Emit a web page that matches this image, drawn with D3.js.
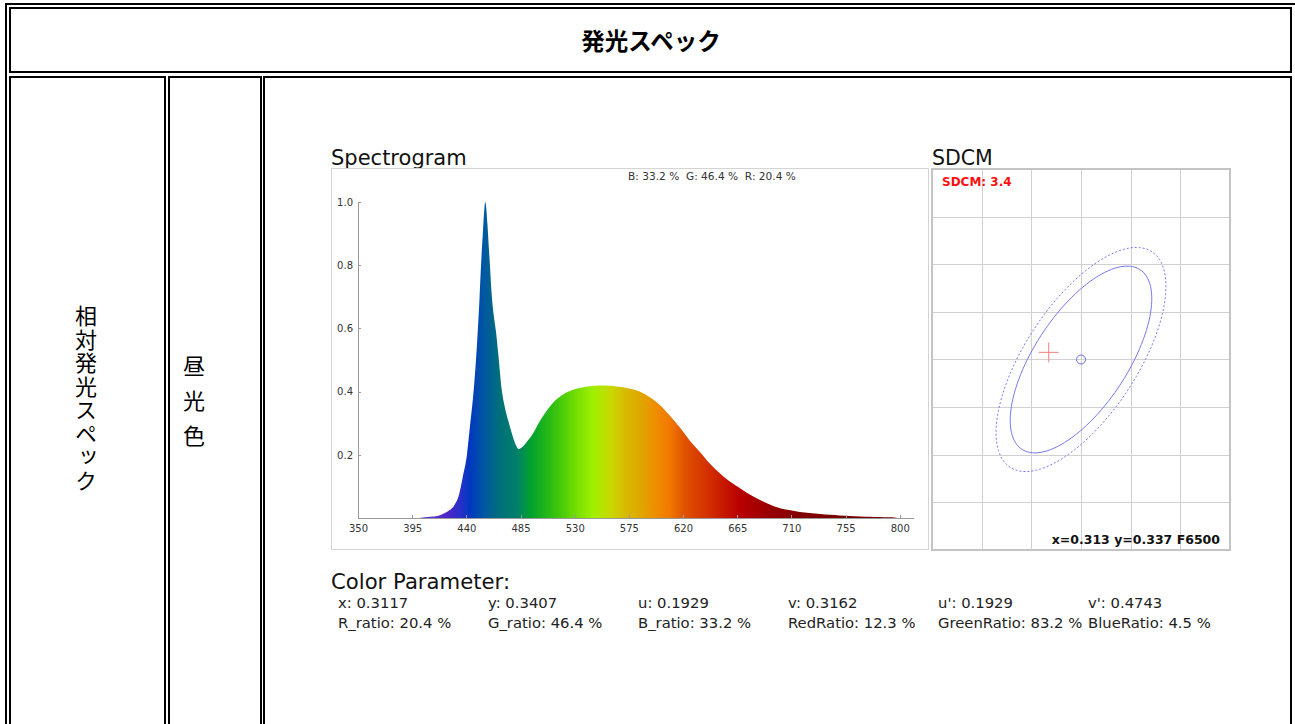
<!DOCTYPE html>
<meta charset="utf-8">
<style>
    body { margin: 0; background: #fff; }
    svg { display: block; }
    .axis path, .axis line { stroke: #999; shape-rendering: crispEdges; }
    .axis text { fill: #333; font: 10px "DejaVu Sans", sans-serif; }
    .param { font: 14.8px "DejaVu Sans", sans-serif; fill: #222; }
</style>
<svg width="1295" height="724"></svg>
<script src="https://cdnjs.cloudflare.com/ajax/libs/d3/7.8.5/d3.min.js"></script>
<script>
// spectrum (nm, relative intensity)
const wavelengths = [380, 400, 405, 410, 416, 420, 425, 430, 434, 437, 440.5, 443, 446, 448, 449.6, 451, 452.2, 453.7, 455, 455.6, 456.3, 457.5, 458.6, 459.6, 461, 462.8, 464.6, 466.5, 469.6, 472, 475, 478, 481, 483.5, 486, 490, 495, 500, 505, 512, 520, 528, 536, 545, 555, 565, 575, 584, 592, 600, 608, 617, 625, 634, 642, 650, 658, 667, 675, 684, 692, 700, 708, 717, 725, 734, 742, 750, 758, 767, 775, 783, 790, 797, 800];
const intensity   = [0, 0, 0.002, 0.004, 0.006, 0.012, 0.022, 0.04, 0.075, 0.13, 0.2, 0.29, 0.4, 0.5, 0.6, 0.7, 0.8, 0.9, 0.98, 1.0, 0.99, 0.93, 0.86, 0.8, 0.71, 0.64, 0.59, 0.52, 0.4, 0.35, 0.305, 0.265, 0.232, 0.218, 0.223, 0.24, 0.265, 0.3, 0.33, 0.365, 0.39, 0.405, 0.413, 0.418, 0.419, 0.416, 0.41, 0.4, 0.383, 0.36, 0.328, 0.288, 0.248, 0.209, 0.173, 0.143, 0.118, 0.095, 0.075, 0.057, 0.043, 0.032, 0.025, 0.019, 0.016, 0.013, 0.01, 0.008, 0.006, 0.005, 0.004, 0.003, 0.002, 0.001, 0];

const xTicks = [350, 395, 440, 485, 530, 575, 620, 665, 710, 755, 800];
const yTicks = [0.2, 0.4, 0.6, 0.8, 1.0];

// colour of the fill along the wavelength axis
const colorStopNm  = [400, 425, 435, 443, 455, 468, 482, 493, 512, 530, 545, 560, 573, 584, 600, 609, 622, 645, 667, 692, 717, 800];
const colorStopHex = ["#6a3ad0", "#4a28c8", "#2830c8", "#0038c0", "#0058a0", "#00707a", "#00806a", "#00a030", "#30c010", "#70dc00", "#a0f000", "#c8d800", "#d8b800", "#e0a800", "#f08800", "#f07800", "#e05000", "#d02800", "#b80000", "#980000", "#800000", "#700000"];

const rgbShare = ["B: 33.2 %", "G: 46.4 %", "R: 20.4 %"];

// SDCM
const targetXY = [0.313, 0.337];
const measuredXY = [0.3117, 0.3373];
const sdcmValue = 3.4;
const targetName = "F6500";
const ellipseA = 0.00223, ellipseB = 0.00095, ellipseTheta = 58.23;
const ellipseSteps = [2, 2.4];

// colour parameters
const paramNames1 = ["x", "y", "u", "v", "u'", "v'"];
const paramValues1 = ["0.3117", "0.3407", "0.1929", "0.3162", "0.1929", "0.4743"];
const paramNames2 = ["R_ratio", "G_ratio", "B_ratio", "RedRatio", "GreenRatio", "BlueRatio"];
const paramValues2 = ["20.4 %", "46.4 %", "33.2 %", "12.3 %", "83.2 %", "4.5 %"];

const svg = d3.select("svg");

// ---- table frame ----
const frame = svg.append("g").attr("fill", "none").attr("stroke", "#000").attr("stroke-width", 2);
frame.append("rect").attr("x", 6).attr("y", 4).attr("width", 1300).attr("height", 800);
frame.append("rect").attr("x", 10).attr("y", 8).attr("width", 1281).attr("height", 64);
frame.append("rect").attr("x", 10).attr("y", 77).attr("width", 155).attr("height", 800);
frame.append("rect").attr("x", 169).attr("y", 77).attr("width", 92).attr("height", 800);
frame.append("rect").attr("x", 264).attr("y", 77).attr("width", 1027).attr("height", 800);

svg.append("text")
    .attr("x", 651).attr("y", 50)
    .attr("text-anchor", "middle")
    .style("font", "bold 23.5px 'Noto Sans CJK JP', sans-serif")
    .text("発光スペック");

svg.append("text")
    .attr("x", 86).attr("y", 305)
    .style("writing-mode", "vertical-rl")
    .style("letter-spacing", "1.5px")
    .style("font", "22px 'Noto Sans CJK JP', sans-serif")
    .text("相対発光スペック");

svg.append("text")
    .attr("x", 194).attr("y", 355)
    .style("writing-mode", "vertical-rl")
    .style("letter-spacing", "4px")
    .style("font", "22px 'Noto Sans CJK JP', sans-serif")
    .text("昼 光 色");

// ---- spectrogram ----
svg.append("text").attr("x", 331).attr("y", 165)
    .style("font", "21px 'DejaVu Sans', sans-serif").attr("fill", "#111")
    .text("Spectrogram");
svg.append("rect").attr("x", 331.5).attr("y", 168.5).attr("width", 597).attr("height", 381)
    .attr("fill", "none").attr("stroke", "#d4d4d4");

const x = d3.scaleLinear().domain([350, 811]).range([358, 913]);
const y = d3.scaleLinear().domain([0, 1]).range([518, 202]);

const grad = svg.append("defs").append("linearGradient")
    .attr("id", "spec").attr("gradientUnits", "userSpaceOnUse")
    .attr("x1", x(350)).attr("x2", x(811)).attr("y1", 0).attr("y2", 0);
grad.selectAll("stop").data(colorStopNm).join("stop")
    .attr("offset", d => (x(d) - x(350)) / (x(811) - x(350)))
    .attr("stop-color", (d, i) => colorStopHex[i]);

const area = d3.area()
    .curve(d3.curveMonotoneX)
    .x((d, i) => x(wavelengths[i]))
    .y0(y(0))
    .y1(d => y(d));

svg.append("path").datum(intensity)
    .attr("d", area)
    .attr("fill", "url(#spec)");

svg.append("g").attr("class", "axis")
    .attr("transform", "translate(0," + y(0) + ")")
    .call(d3.axisBottom(x).tickValues(xTicks).tickSizeInner(-3).tickSizeOuter(0).tickPadding(7).tickFormat(d3.format("d")));

svg.append("g").attr("class", "axis")
    .attr("transform", "translate(" + x(350) + ",0)")
    .call(d3.axisLeft(y).tickValues(yTicks).tickSizeInner(-3).tickSizeOuter(0).tickPadding(5).tickFormat(d3.format(".1f")));

svg.append("text").attr("x", 628).attr("y", 180)
    .style("font", "10.6px 'DejaVu Sans', sans-serif").attr("fill", "#333")
    .attr("xml:space", "preserve")
    .text(rgbShare.join("  "));

// ---- SDCM ----
svg.append("text").attr("x", 932).attr("y", 165)
    .style("font", "20.5px 'DejaVu Sans', sans-serif").attr("fill", "#111")
    .text("SDCM");

const sx = d3.scaleLinear().domain([0.307, 0.319]).range([932, 1230]);
const sy = d3.scaleLinear().domain([0.329, 0.345]).range([550, 169]);

const sd = svg.append("g");
sd.selectAll(".vg").data(d3.range(1, 6)).join("line")
    .attr("x1", i => Math.round(sx(0.307 + i * 0.002)) + 0.5)
    .attr("x2", i => Math.round(sx(0.307 + i * 0.002)) + 0.5)
    .attr("y1", sy(0.345)).attr("y2", sy(0.329))
    .attr("stroke", "#d0d0d0");
sd.selectAll(".hg").data(d3.range(1, 8)).join("line")
    .attr("y1", i => Math.round(sy(0.329 + i * 0.002)) + 0.5)
    .attr("y2", i => Math.round(sy(0.329 + i * 0.002)) + 0.5)
    .attr("x1", sx(0.307)).attr("x2", sx(0.319))
    .attr("stroke", "#d0d0d0");
sd.append("rect").attr("x", 932).attr("y", 169).attr("width", 298).attr("height", 381)
    .attr("fill", "none").attr("stroke", "#c4c4c4").attr("stroke-width", 2);

const th = ellipseTheta * Math.PI / 180;
function ellipsePts(k) {
    return d3.range(0, 360, 3).map(a => {
        const t = a * Math.PI / 180;
        const u = k * ellipseA * Math.cos(t), v = k * ellipseB * Math.sin(t);
        return [targetXY[0] + u * Math.cos(th) - v * Math.sin(th),
                targetXY[1] + u * Math.sin(th) + v * Math.cos(th)];
    });
}
const eline = d3.line().curve(d3.curveCardinalClosed).x(d => sx(d[0])).y(d => sy(d[1]));
sd.selectAll(".ell").data(ellipseSteps).join("path")
    .attr("d", k => eline(ellipsePts(k)))
    .attr("fill", "none")
    .attr("stroke", "#7878f0")
    .attr("stroke-width", 1)
    .attr("stroke-dasharray", (k, i) => i ? "2,2" : null);

sd.append("circle").attr("cx", sx(targetXY[0])).attr("cy", sy(targetXY[1])).attr("r", 4.5)
    .attr("fill", "none").attr("stroke", "#6a6aee");

const mx = sx(measuredXY[0]), my = sy(measuredXY[1]);
sd.append("path")
    .attr("d", `M${mx - 10},${my}H${mx + 10}M${mx},${my - 10}V${my + 10}`)
    .attr("stroke", "#f08080").attr("stroke-width", 1);

sd.append("text").attr("x", 942).attr("y", 186)
    .style("font", "bold 12px 'DejaVu Sans', sans-serif").attr("fill", "#ff1010")
    .text("SDCM: " + sdcmValue);

sd.append("text").attr("x", 1220).attr("y", 544).attr("text-anchor", "end")
    .style("font", "bold 12.5px 'DejaVu Sans', sans-serif").attr("fill", "#111")
    .text(`x=${targetXY[0]} y=${targetXY[1]} ${targetName}`);

// ---- colour parameters ----
svg.append("text").attr("x", 331).attr("y", 589)
    .style("font", "21.2px 'DejaVu Sans', sans-serif").attr("fill", "#111")
    .text("Color Parameter:");

const colX = d3.scalePoint().domain(d3.range(6)).range([338, 1088]);
svg.selectAll(".p1").data(paramNames1).join("text")
    .attr("class", "param")
    .attr("x", (d, i) => colX(i)).attr("y", 608)
    .text((d, i) => d + ": " + paramValues1[i]);
svg.selectAll(".p2").data(paramNames2).join("text")
    .attr("class", "param")
    .attr("x", (d, i) => colX(i)).attr("y", 628)
    .text((d, i) => d + ": " + paramValues2[i]);
</script>
